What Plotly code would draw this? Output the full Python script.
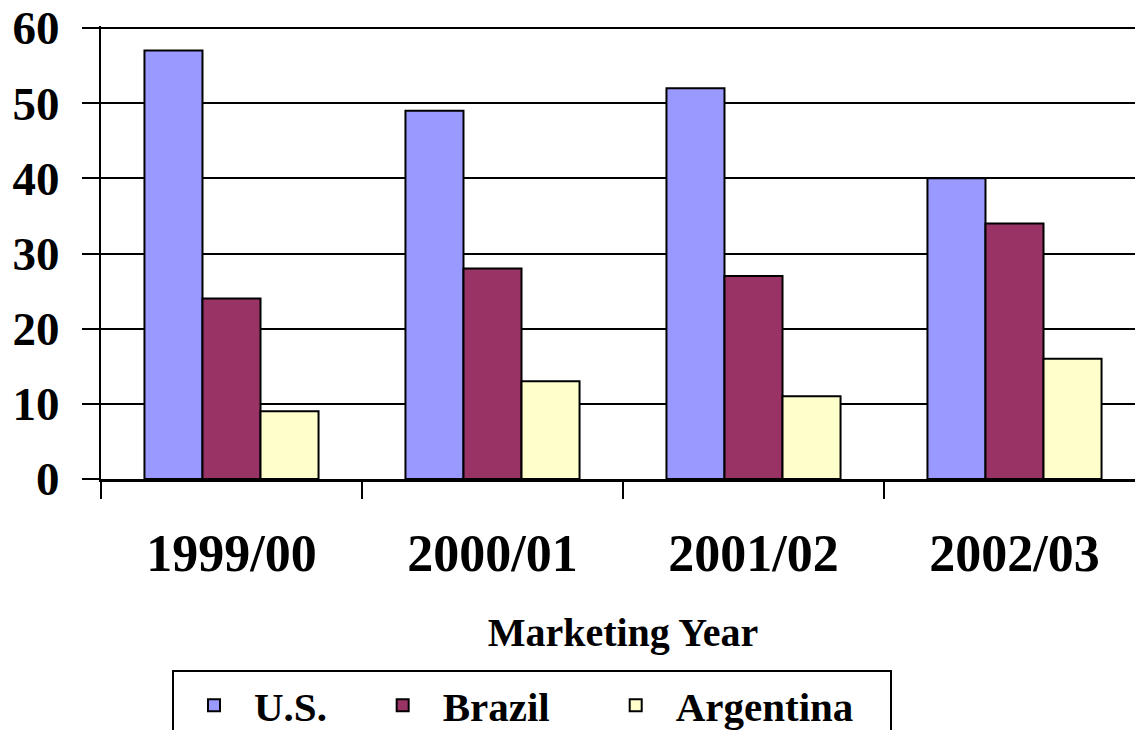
import plotly.graph_objects as go

years = ["1999/00", "2000/01", "2001/02", "2002/03"]
us = [57, 49, 52, 40]
brazil = [24, 28, 27, 34]
argentina = [9, 13, 11, 16]
y_ticks = [0, 10, 20, 30, 40, 50, 60]

NB = "\u00a0"
series = [("U.S." + NB * 3, us, "#9999FF"),
          ("Brazil" + NB * 4, brazil, "#993366"),
          ("Argentina" + NB * 3, argentina, "#FFFFCC")]

FONT = "Liberation Serif, Times New Roman, serif"

fig = go.Figure()
for name, vals, col in series:
    fig.add_trace(go.Bar(x=years, y=vals, name=name,
                         marker=dict(color=col, line=dict(color="black", width=2))))

# page body adds an 8px offset; layout values are in figure coordinates
OFF = 8
W, H = 1143, 730
L = 101 - OFF
top60 = 28 - OFF          # where the 60 gridline sits
T = top60 - 2             # leave 2px so the top gridline is kept
bottom = 479 - OFF
right = L + 4 * 261
R = W - right
B = H - bottom
pw = W - L - R
ph = H - T - B
ymax = 60 * ph / (bottom - top60)

fig.update_layout(
    width=W, height=H,
    margin=dict(l=L, r=R, t=T, b=B, pad=0, autoexpand=False),
    paper_bgcolor="white", plot_bgcolor="white",
    barmode="group", bargap=0.333, bargroupgap=0,
    font=dict(family=FONT, color="black", weight="bold"),
    showlegend=True,
    legend=dict(
        orientation="h",
        x=(172 - OFF - L) / pw, xanchor="left",
        y=(bottom - (670 - OFF)) / ph, yanchor="top",
        bordercolor="black", borderwidth=2, bgcolor="white",
        font=dict(family=FONT, size=41, color="black", weight="bold"),
        itemwidth=70,
    ),
    xaxis=dict(
        automargin=False,
        showline=True, linecolor="black", linewidth=3,
        ticks="outside", ticklen=17, tickwidth=2, tickcolor="black",
        tickson="boundaries",
        tickfont=dict(family=FONT, size=52, color="black", weight="bold"),
        ticklabelstandoff=27,
        ticklabeloverflow="allow",
        title=dict(text="Marketing Year", standoff=37,
                   font=dict(family=FONT, size=40, color="black", weight="bold")),
    ),
    yaxis=dict(
        automargin=False,
        range=[0, ymax], tickmode="array", tickvals=y_ticks,
        showline=True, linecolor="black", linewidth=2,
        showgrid=True, gridcolor="black", gridwidth=2,
        zeroline=False,
        ticks="outside", ticklen=17, tickwidth=2, tickcolor="black",
        tickfont=dict(family=FONT, size=47, color="black", weight="bold"),
        ticklabelstandoff=13,
        ticklabeloverflow="allow",
    ),
)

fig.write_html("out.html")
